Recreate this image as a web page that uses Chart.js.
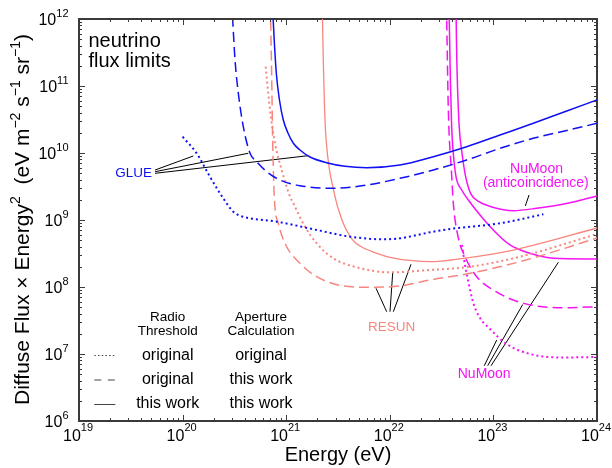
<!DOCTYPE html>
<html>
<head>
<meta charset="utf-8">
<script src="https://cdn.jsdelivr.net/npm/chart.js@4.4.1/dist/chart.umd.min.js"></script>
<style>
html,body{margin:0;padding:0;background:#fff;}
#wrap{width:612px;height:468px;position:relative;}
</style>
</head>
<body>
<div id="wrap"><canvas id="c" width="612" height="468"></canvas></div>
<script>
// ---------- axis tick exponents ----------
const xDecades = [19, 20, 21, 22, 23, 24];
const yDecades = [6, 7, 8, 9, 10, 11, 12];

// ---------- curves: log10(Energy / eV) and log10(Flux x E^2) ----------
// GLUE
const glueOrigLogE  = [20.00, 20.136, 20.264, 20.361, 20.489, 20.56, 20.651, 20.908, 21.294, 21.616, 21.937, 22.098, 22.388, 22.581, 23.064, 23.482];
const glueOrigLogF  = [10.243, 9.995, 9.646, 9.398, 9.124, 9.06, 9.025, 8.975, 8.851, 8.751, 8.712, 8.727, 8.816, 8.866, 8.951, 9.085];
const glueDashLogE  = [20.482, 20.506, 20.538, 20.586, 20.651, 20.715, 20.812, 20.940, 21.133, 21.455, 21.777, 22.098, 22.420, 22.742, 23.064, 23.385, 23.708, 24.0];
const glueDashLogF  = [12.03, 11.388, 10.891, 10.393, 9.996, 9.870, 9.721, 9.597, 9.512, 9.473, 9.522, 9.622, 9.746, 9.896, 10.070, 10.219, 10.336, 10.443];
const glueSolidLogE = [20.873, 20.887, 20.906, 20.935, 20.972, 21.017, 21.069, 21.133, 21.230, 21.391, 21.568, 21.777, 22.098, 22.420, 22.742, 23.064, 23.385, 23.708, 24.0];
const glueSolidLogF = [12.03, 11.612, 11.164, 10.791, 10.493, 10.299, 10.145, 10.045, 9.940, 9.855, 9.801, 9.781, 9.821, 9.945, 10.094, 10.269, 10.443, 10.627, 10.791];
// RESUN
const resunOrigLogE  = [20.802, 20.844, 20.892, 20.957, 21.037, 21.069, 21.181, 21.294, 21.455, 21.681, 22.002, 22.388, 22.774, 23.257, 24.0];
const resunOrigLogF  = [11.288, 10.642, 10.145, 9.746, 9.348, 9.249, 8.900, 8.652, 8.428, 8.294, 8.219, 8.254, 8.303, 8.452, 8.79];
const resunDashLogE  = [20.848, 20.850, 20.860, 20.870, 20.885, 20.924, 21.005, 21.133, 21.294, 21.551, 21.777, 22.098, 22.388, 22.774, 23.257, 24.0];
const resunDashLogF  = [12.2, 11.985, 11.139, 10.145, 9.348, 8.951, 8.601, 8.354, 8.154, 8.015, 7.996, 8.015, 8.104, 8.204, 8.378, 8.73];
const resunSolidLogE = [21.350, 21.358, 21.368, 21.379, 21.394, 21.411, 21.432, 21.457, 21.487, 21.519, 21.558, 21.597, 21.635, 21.680, 21.751, 21.841, 22.002, 22.195, 22.388, 22.710, 23.192, 24.0];
const resunSolidLogF = [12.03, 11.388, 10.791, 10.343, 10.045, 9.821, 9.627, 9.448, 9.249, 9.090, 8.925, 8.806, 8.716, 8.645, 8.578, 8.522, 8.443, 8.396, 8.378, 8.428, 8.552, 8.881];
// NuMoon
const numoonOrigLogE  = [22.697, 22.726, 22.755, 22.806, 22.871, 22.967, 23.128, 23.353, 23.643, 24.0];
const numoonOrigLogF  = [8.627, 8.328, 8.104, 7.761, 7.537, 7.373, 7.149, 7.000, 6.948, 6.955];
const numoonDashLogE  = [22.545, 22.549, 22.565, 22.598, 22.613, 22.659, 22.726, 22.839, 22.999, 23.192, 23.418, 23.739, 24.0];
const numoonDashLogF  = [12.2, 11.985, 10.642, 9.646, 9.249, 8.75, 8.452, 8.154, 7.955, 7.806, 7.716, 7.691, 7.706];
const numoonSolidLogE = [22.572, 22.574, 22.584, 22.597, 22.613, 22.639, 22.694, 22.758, 22.871, 22.999, 23.160, 23.353, 23.578, 24.0];
const numoonSolidLogF = [12.2, 11.985, 11.139, 10.393, 9.996, 9.646, 9.448, 9.299, 9.075, 8.851, 8.627, 8.503, 8.428, 8.418];
const numoonAntiLogE  = [22.640, 22.641, 22.651, 22.670, 22.697, 22.732, 22.780, 22.861, 22.977, 23.192, 23.418, 23.739, 24.0];
const numoonAntiLogF  = [12.2, 11.985, 11.139, 10.393, 9.996, 9.646, 9.398, 9.273, 9.199, 9.139, 9.175, 9.258, 9.36];

// ---------- label leader lines (log10 E, log10 F), from label to curve ----------
const glueLeaderLogE   = [[19.734, 20.103], [19.734, 20.634], [19.734, 21.213]];
const glueLeaderLogF   = [[9.746, 9.955], [9.721, 9.996], [9.697, 9.960]];
const resunLeaderLogE  = [[21.970, 21.867], [22.002, 22.028], [22.034, 22.205]];
const resunLeaderLogF  = [[7.631, 7.981], [7.631, 8.213], [7.631, 8.339]];
const numoonLeaderLogE = [[22.912, 23.032], [22.945, 23.283], [22.977, 23.627], [23.308, 23.344]];
const numoonLeaderLogF = [[6.825, 7.209], [6.825, 7.739], [6.825, 8.369], [9.209, 9.373]];

// ---------- text ----------
const xTitle = 'Energy (eV)';
const yTitleParts = [['Diffuse Flux × Energy', 0], ['2', 1], ['  (eV m', 0], ['−2', 1], [' s', 0], ['−1', 1], [' sr', 0], ['−1', 1], [')', 0]];
const cornerText = ['neutrino', 'flux limits'];
const legendHeads = [['Radio', 'Threshold'], ['Aperture', 'Calculation']];
const legendRows = [['original', 'original'], ['original', 'this work'], ['this work', 'this work']];

// ---------- styling ----------
const FONT = '"Liberation Sans", Arial, Helvetica, sans-serif';
const BLUE = '#1010f4', SALMON = '#f7867e', MAGENTA = '#f414f4', INK = '#3a3a3a';
const DOT = [2, 3], DASH = [10, 5];

function pts(le, lf) { return le.map((e, i) => ({ x: Math.pow(10, e), y: Math.pow(10, lf[i]) })); }
function curve(label, le, lf, color, dash, width) {
  return { label, data: pts(le, lf), borderColor: color, borderWidth: width, borderDash: dash,
    pointRadius: 0, fill: false, cubicInterpolationMode: 'monotone', borderCapStyle: 'butt' };
}
function leaders(label, LE, LF) {
  return LE.map((le, i) => ({ label: label + ' leader ' + i, data: pts(le, LF[i]), borderColor: '#000',
    borderWidth: 1, pointRadius: 0, fill: false, tension: 0 }));
}

const datasets = [
  curve('GLUE original', glueOrigLogE, glueOrigLogF, BLUE, DOT, 2),
  curve('GLUE aperture this work', glueDashLogE, glueDashLogF, BLUE, DASH, 1.5),
  curve('GLUE this work', glueSolidLogE, glueSolidLogF, BLUE, [], 1.5),
  curve('RESUN original', resunOrigLogE, resunOrigLogF, SALMON, DOT, 2),
  curve('RESUN aperture this work', resunDashLogE, resunDashLogF, SALMON, DASH, 1.5),
  curve('RESUN this work', resunSolidLogE, resunSolidLogF, SALMON, [], 1.3),
  curve('NuMoon original', numoonOrigLogE, numoonOrigLogF, MAGENTA, DOT, 2),
  curve('NuMoon aperture this work', numoonDashLogE, numoonDashLogF, MAGENTA, DASH, 1.5),
  curve('NuMoon this work', numoonSolidLogE, numoonSolidLogF, MAGENTA, [], 1.5),
  curve('NuMoon anticoincidence', numoonAntiLogE, numoonAntiLogF, MAGENTA, [], 1.5),
  ...leaders('GLUE', glueLeaderLogE, glueLeaderLogF),
  ...leaders('RESUN', resunLeaderLogE, resunLeaderLogF),
  ...leaders('NuMoon', numoonLeaderLogE, numoonLeaderLogF),
];

function drawPow(ctx, exp, cx, baseY, mode, supOff) {
  ctx.font = '16px ' + FONT;
  const wb = ctx.measureText('10').width;
  ctx.font = '11px ' + FONT;
  const ws = ctx.measureText(String(exp)).width;
  let x0 = mode === 'center' ? cx - (wb + ws) / 2 : cx - (wb + ws);
  ctx.textAlign = 'left'; ctx.textBaseline = 'alphabetic';
  ctx.font = '16px ' + FONT; ctx.fillText('10', x0, baseY);
  ctx.font = '11px ' + FONT; ctx.fillText(String(exp), x0 + wb, baseY + supOff);
}

const decor = {
  id: 'decor',
  afterDraw(chart) {
    const { ctx, chartArea: a } = chart;
    const xs = chart.scales.x, ys = chart.scales.y;
    ctx.save();
    // tick marks, inward on all four sides
    ctx.strokeStyle = INK; ctx.lineWidth = 1; ctx.setLineDash([]);
    ctx.beginPath();
    for (let i = 0; i < xDecades.length - 1; i++) {
      for (let m = 1; m <= 9; m++) {
        if (i === 0 && m === 1) continue;
        const px = Math.round(xs.getPixelForValue(m * Math.pow(10, xDecades[i]))) + 0.5;
        const L = m === 1 ? 6 : 3;
        ctx.moveTo(px, a.bottom); ctx.lineTo(px, a.bottom - L);
        ctx.moveTo(px, a.top); ctx.lineTo(px, a.top + L);
      }
    }
    for (let i = 0; i < yDecades.length - 1; i++) {
      for (let m = 1; m <= 9; m++) {
        if (i === 0 && m === 1) continue;
        const py = Math.round(ys.getPixelForValue(m * Math.pow(10, yDecades[i]))) + 0.5;
        const L = m === 1 ? 6 : 3;
        ctx.moveTo(a.left, py); ctx.lineTo(a.left + L, py);
        ctx.moveTo(a.right, py); ctx.lineTo(a.right - L, py);
      }
    }
    ctx.stroke();

    // tick labels
    ctx.fillStyle = '#000';
    xDecades.forEach(d => drawPow(ctx, d, xs.getPixelForValue(Math.pow(10, d)) - 1, 441, 'center', -10));
    yDecades.forEach(d => drawPow(ctx, d, 68.5, ys.getPixelForValue(Math.pow(10, d)) + 5.8, 'right', -7.5));

    // axis titles
    ctx.font = '20px ' + FONT; ctx.textAlign = 'center'; ctx.textBaseline = 'alphabetic';
    ctx.fillText(xTitle, (a.left + a.right) / 2, 461);
    ctx.save();
    ctx.translate(28.5, 219.5); ctx.rotate(-Math.PI / 2);
    const mainF = '21px ' + FONT, supF = '14px ' + FONT;
    let total = 0;
    yTitleParts.forEach(([t, s]) => { ctx.font = s ? supF : mainF; total += ctx.measureText(t).width; });
    let px = -total / 2; ctx.textAlign = 'left';
    yTitleParts.forEach(([t, s]) => {
      ctx.font = s ? supF : mainF;
      ctx.fillText(t, px, s ? -8.5 : 0);
      px += ctx.measureText(t).width;
    });
    ctx.restore();

    // corner note
    ctx.font = '20px ' + FONT; ctx.textAlign = 'left';
    ctx.fillText(cornerText[0], 88.5, 47);
    ctx.fillText(cornerText[1], 88.5, 67);

    // series labels
    ctx.textAlign = 'center';
    ctx.font = '13.5px ' + FONT;
    ctx.fillStyle = BLUE; ctx.fillText('GLUE', 133.7, 177);
    ctx.fillStyle = SALMON; ctx.fillText('RESUN', 391.7, 331);
    ctx.font = '14px ' + FONT;
    ctx.fillStyle = MAGENTA; ctx.fillText('NuMoon', 484.2, 377.5);
    ctx.fillText('NuMoon', 536.5, 173);
    ctx.fillText('(anticoincidence)', 535.8, 187);

    // legend
    ctx.fillStyle = '#000';
    ctx.font = '13.5px ' + FONT;
    ctx.fillText(legendHeads[0][0], 167.7, 321); ctx.fillText(legendHeads[0][1], 167.7, 335);
    ctx.fillText(legendHeads[1][0], 261, 321); ctx.fillText(legendHeads[1][1], 261, 335);
    ctx.font = '16px ' + FONT;
    const rowY = [360, 384, 408];
    legendRows.forEach((r, i) => { ctx.fillText(r[0], 167.7, rowY[i]); ctx.fillText(r[1], 261, rowY[i]); });
    const sampleY = [355.5, 380, 404.5];
    const sampleDash = [[1.5, 2.2], [7, 6.5], []];
    ctx.strokeStyle = '#444'; ctx.lineWidth = 1;
    sampleY.forEach((yy, i) => {
      ctx.setLineDash(sampleDash[i]); ctx.beginPath();
      ctx.moveTo(94.3, yy); ctx.lineTo(115.3, yy); ctx.stroke();
    });
    ctx.restore();
  }
};

const axisCommon = () => ({
  type: 'logarithmic',
  ticks: { display: false },
  grid: { display: false, drawTicks: false },
  border: { display: true, color: INK, width: 2 },
  title: { display: false }
});

new Chart(document.getElementById('c'), {
  type: 'line',
  data: { datasets },
  options: {
    responsive: false,
    animation: false,
    devicePixelRatio: 1,
    layout: { padding: { left: 79, right: 15, top: 19, bottom: 47 } },
    plugins: { legend: { display: false }, tooltip: { enabled: false } },
    scales: {
      x: Object.assign(axisCommon(), { position: 'bottom', min: 1e19, max: 1e24 }),
      x2: Object.assign(axisCommon(), { position: 'top', min: 1e19, max: 1e24 }),
      y: Object.assign(axisCommon(), { position: 'left', min: 1e6, max: 1e12 }),
      y2: Object.assign(axisCommon(), { position: 'right', min: 1e6, max: 1e12 })
    }
  },
  plugins: [decor]
});
</script>
</body>
</html>
